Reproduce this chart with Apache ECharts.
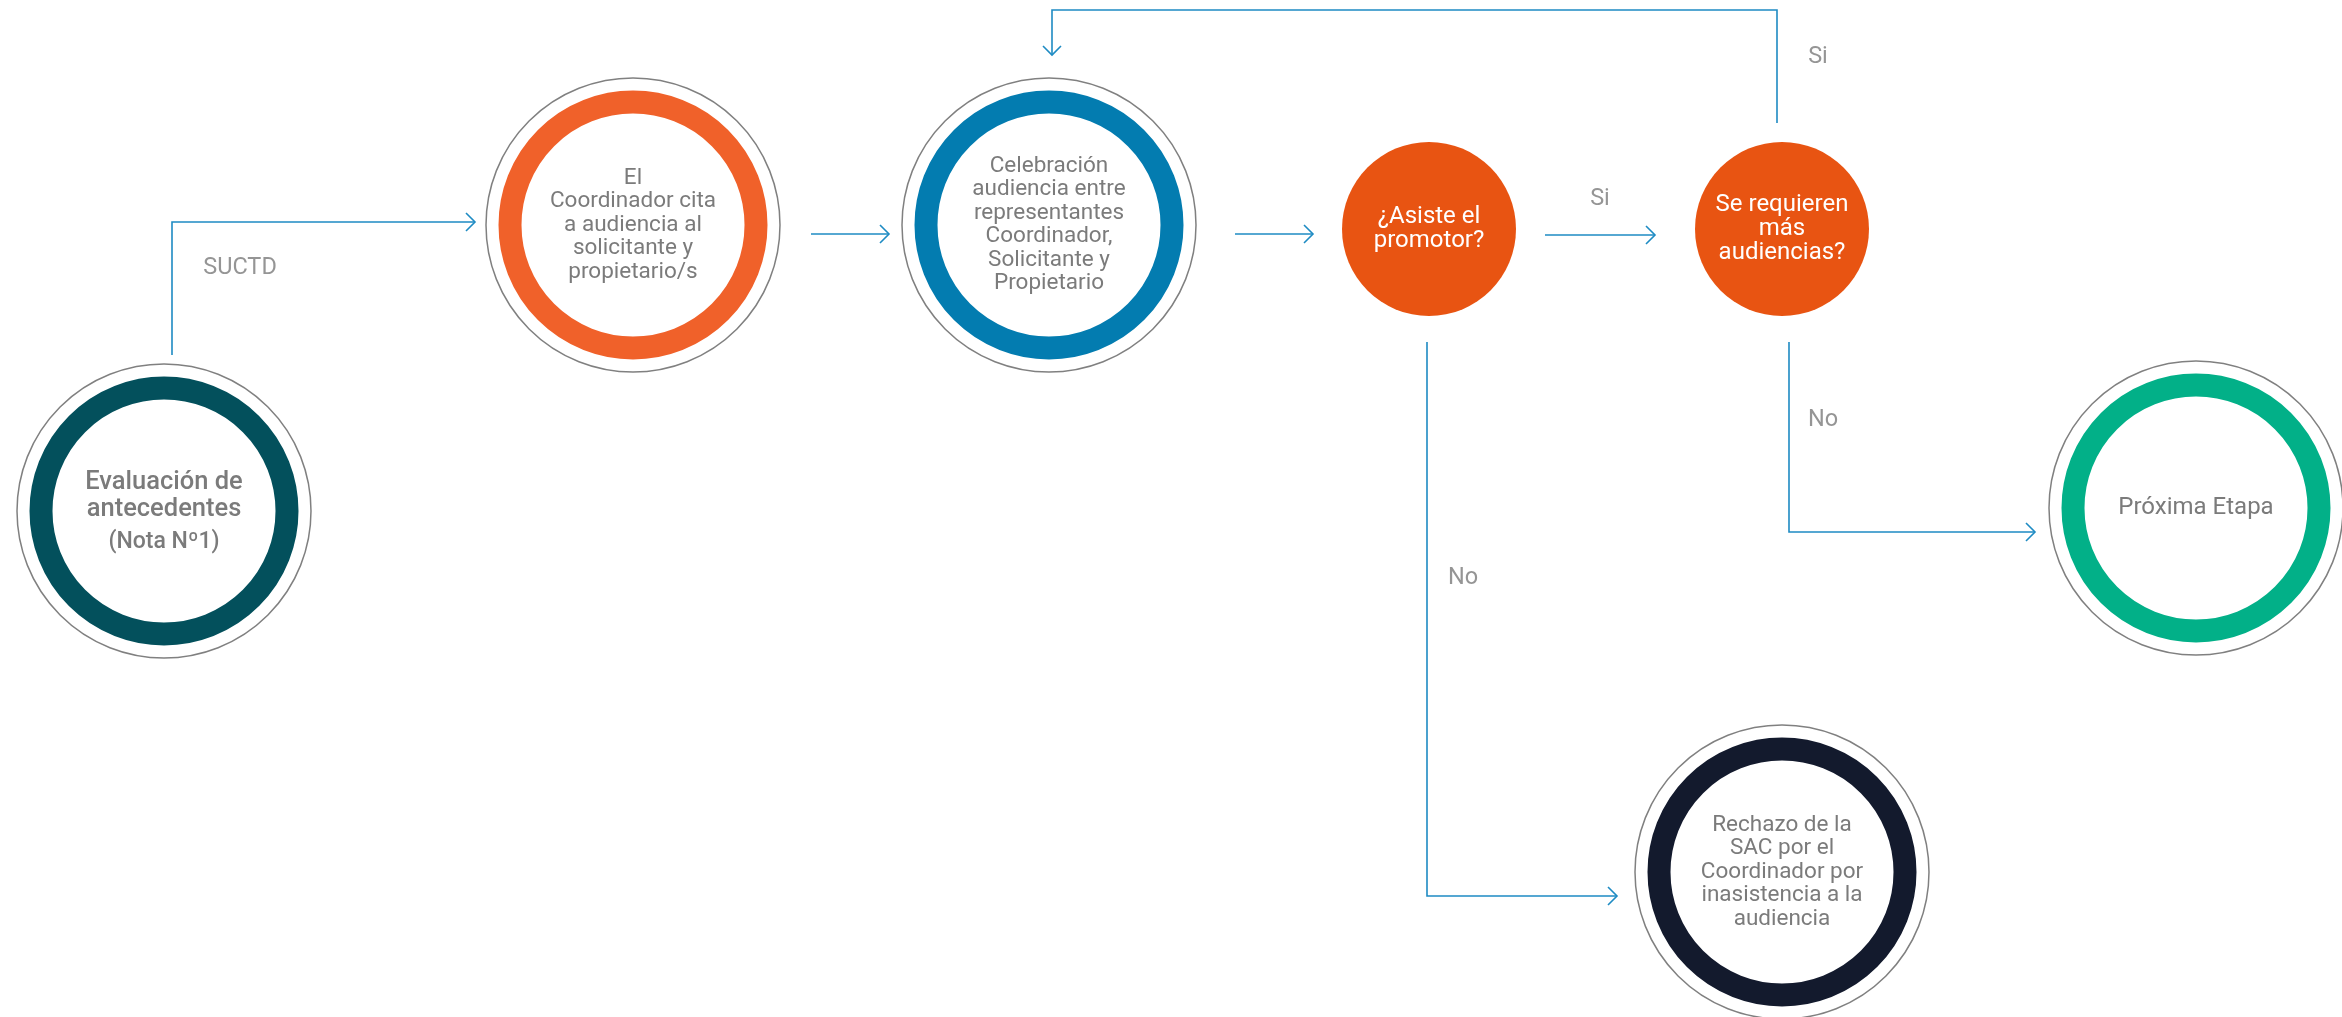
<!DOCTYPE html>
<html>
<head>
<meta charset="utf-8">
<script src="https://cdn.jsdelivr.net/npm/echarts@6/dist/echarts.min.js"></script>
<style>
    html, body { margin: 0; padding: 0; background: #fff; }
    #chart { width: 2342px; height: 1017px; }
</style>
</head>
<body>
<div id="chart"></div>
<script>
// nodos del diagrama (anillos)
var ringNames = [
    'Evaluación de\nantecedentes\n(Nota Nº1)',
    'El\nCoordinador cita\na audiencia al\nsolicitante y\npropietario/s',
    'Celebración\naudiencia entre\nrepresentantes\nCoordinador,\nSolicitante y\nPropietario',
    'Próxima Etapa',
    'Rechazo de la\nSAC por el\nCoordinador por\ninasistencia a la\naudiencia'
];
var ringX = [164, 633, 1049, 2196, 1782];
var ringY = [511, 225, 225, 508, 872];

// nodos de decision (circulos llenos)
var decisionNames = ['¿Asiste el\npromotor?', 'Se requieren\nmás\naudiencias?'];
var decisionX = [1429, 1782];
var decisionY = [229, 229];

// flechas (polilineas, la punta va al final)
var arrowPaths = [
    [[172, 355], [172, 222], [475, 222]],
    [[811, 234], [889, 234]],
    [[1235, 234], [1313, 234]],
    [[1545, 235], [1655, 235]],
    [[1777, 123], [1777, 10], [1052, 10], [1052, 55]],
    [[1427, 342], [1427, 896], [1617, 896]],
    [[1789, 342], [1789, 532], [2035, 532]]
];

// etiquetas de las flechas
var edgeLabels = ['SUCTD', 'Si', 'Si', 'No', 'No'];
var edgeLabelX = [240, 1600, 1818, 1463, 1823];
var edgeLabelY = [268, 199, 57, 578, 420];

var ringColors = ['#03505c', '#f0612a', '#037cb0', '#02b088', '#131a2d'];
var FONT = 'Roboto';
var TEXT_GRAY = '#7b7b7b';
var LINE_BLUE = '#1e8bc3';

function ringData() {
    var arr = [];
    for (var i = 0; i < ringNames.length; i++) {
        var item = {
            name: ringNames[i],
            value: [ringX[i], ringY[i]],
            itemStyle: { borderColor: ringColors[i] }
        };
        if (i == 0) {
            // el primero lleva la nota en otra linea
            item.label = {
                formatter: '{a|Evaluación de}\n{a|antecedentes}\n{b|(Nota Nº1)}',
                offset: [0, 4]
            };
        } else if (i == 3) {
            item.label = { fontSize: 24 };
        }
        arr.push(item);
    }
    return arr;
}

function outlineData() {
    var arr = [];
    for (var i = 0; i < ringX.length; i++) {
        arr.push([ringX[i], ringY[i]]);
    }
    return arr;
}

function decisionData() {
    var arr = [];
    for (var i = 0; i < decisionNames.length; i++) {
        arr.push({ name: decisionNames[i], value: [decisionX[i], decisionY[i]] });
    }
    return arr;
}

function edgeLabelData() {
    var arr = [];
    for (var i = 0; i < edgeLabels.length; i++) {
        arr.push({ name: edgeLabels[i], value: [edgeLabelX[i], edgeLabelY[i]] });
    }
    return arr;
}

function renderArrow(params, api) {
    var path = arrowPaths[params.dataIndex];
    var pts = [];
    for (var i = 0; i < path.length; i++) {
        pts.push(api.coord(path[i]));
    }
    var tip = pts[pts.length - 1];
    var prev = pts[pts.length - 2];
    var dx = tip[0] - prev[0], dy = tip[1] - prev[1];
    var len = Math.sqrt(dx * dx + dy * dy);
    dx = dx / len; dy = dy / len;
    var h = 9;
    var head = [
        [tip[0] - h * dx - h * dy, tip[1] - h * dy + h * dx],
        tip,
        [tip[0] - h * dx + h * dy, tip[1] - h * dy - h * dx]
    ];
    var style = { stroke: LINE_BLUE, lineWidth: 1.6, fill: null };
    return {
        type: 'group',
        children: [
            { type: 'polyline', shape: { points: pts }, style: style },
            { type: 'polyline', shape: { points: head }, style: style }
        ]
    };
}

var option = {
    backgroundColor: '#fff',
    animation: false,
    grid: { left: 0, right: 0, top: 0, bottom: 0 },
    xAxis: { type: 'value', min: 0, max: 2342, show: false },
    yAxis: { type: 'value', min: 0, max: 1017, inverse: true, show: false },
    series: [
        {
            type: 'custom',
            name: 'flechas',
            z: 1,
            silent: true,
            renderItem: renderArrow,
            data: arrowPaths.map(function (p, i) { return [i]; })
        },
        {
            type: 'scatter',
            name: 'contorno',
            z: 2,
            silent: true,
            symbol: 'circle',
            symbolSize: 294,
            itemStyle: { color: '#fff', borderColor: '#808080', borderWidth: 1.5, opacity: 1 },
            data: outlineData()
        },
        {
            type: 'scatter',
            name: 'anillos',
            z: 3,
            silent: true,
            symbol: 'circle',
            symbolSize: 246,
            itemStyle: { color: '#fff', borderWidth: 23, opacity: 1 },
            label: {
                show: true,
                position: 'inside',
                formatter: '{b}',
                color: TEXT_GRAY,
                fontFamily: FONT,
                fontSize: 22.5,
                lineHeight: 23.5,
                rich: {
                    a: { fontFamily: FONT, fontSize: 25.5, lineHeight: 27, color: TEXT_GRAY, fontWeight: 500 },
                    b: { fontFamily: FONT, fontSize: 23, lineHeight: 38, color: TEXT_GRAY, fontWeight: 500 }
                }
            },
            data: ringData()
        },
        {
            type: 'scatter',
            name: 'decisiones',
            z: 3,
            silent: true,
            symbol: 'circle',
            symbolSize: 174,
            itemStyle: { color: '#e85412', opacity: 1 },
            label: {
                show: true,
                position: 'inside',
                formatter: '{b}',
                color: '#fff',
                fontFamily: FONT,
                fontSize: 24,
                lineHeight: 24
            },
            data: decisionData()
        },
        {
            type: 'scatter',
            name: 'etiquetas',
            z: 4,
            silent: true,
            symbolSize: 0,
            label: {
                show: true,
                position: 'inside',
                formatter: '{b}',
                color: TEXT_GRAY,
                fontFamily: FONT,
                fontSize: 23.5
            },
            data: edgeLabelData()
        }
    ]
};

var myChart = echarts.init(document.getElementById('chart'));
myChart.setOption(option);
</script>
</body>
</html>
